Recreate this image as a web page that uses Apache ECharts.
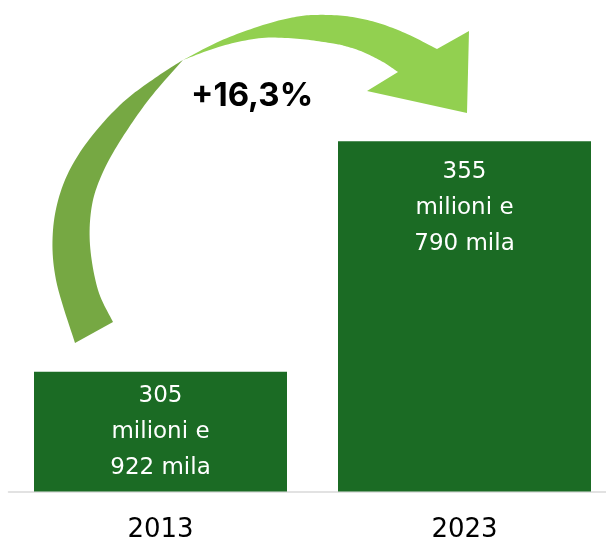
<!DOCTYPE html>
<html>
<head>
<meta charset="utf-8">
<script src="https://cdn.jsdelivr.net/npm/echarts@6/dist/echarts.min.js"></script>
<style>
html,body{margin:0;padding:0;background:#fff;}
#chart{width:606px;height:545px;}
</style>
</head>
<body>
<div id="chart"></div>
<script>
// ---- data ----
const years = ['2013', '2023'];
const valuesMillions = [305.922, 355.790];

// ---- helpers ----
function labelText(v) {
  const m = Math.floor(v + 1e-9);
  const k = Math.round((v - m) * 1000);
  return m + '\nmilioni e\n' + k + ' mila';
}
const pct = (valuesMillions[1] / valuesMillions[0] - 1) * 100;
const pctText = '+' + pct.toFixed(1).replace('.', ',') + '%';

// sample a smooth (Catmull-Rom) curve through the given outline points
function smoothPts(pts) {
  const out = [];
  const N = 12;
  for (let i = 0; i < pts.length - 1; i++) {
    const p0 = pts[Math.max(i - 1, 0)], p1 = pts[i], p2 = pts[i + 1], p3 = pts[Math.min(i + 2, pts.length - 1)];
    const c1 = [p1[0] + (p2[0] - p0[0]) / 6, p1[1] + (p2[1] - p0[1]) / 6];
    const c2 = [p2[0] - (p3[0] - p1[0]) / 6, p2[1] - (p3[1] - p1[1]) / 6];
    for (let j = (i === 0 ? 0 : 1); j <= N; j++) {
      const t = j / N, u = 1 - t;
      out.push([
        u*u*u*p1[0] + 3*u*u*t*c1[0] + 3*u*t*t*c2[0] + t*t*t*p2[0],
        u*u*u*p1[1] + 3*u*u*t*c1[1] + 3*u*t*t*c2[1] + t*t*t*p2[1]
      ]);
    }
  }
  return out;
}

// decorative arrow outline (pixels)
const darkOuter = [[75,343],[56,280],[53,230],[63,185],[85,145],[120,105],[155,78],[183,60]];
const darkInner = [[183,60],[150,98],[122,138],[103,172],[92,205],[90,245],[98,290],[113,322]];
const lightTop = [[183,60],[220,41],[260,26],[290,18],[313,15],[345,16],[375,22],[405,33],[437,49]];
const lightLow = [[398,72],[383,62],[363,52],[345,46],[330,43],[300,39],[262,38],[222,46],[183,60]];
const headPts = [[469,31],[467,113],[367,91]];

const darkPoly = smoothPts(darkOuter).concat(smoothPts(darkInner).slice(1));
const lightPoly = smoothPts(lightTop).concat(headPts, smoothPts(lightLow));

const FONT = '"DejaVu Sans", sans-serif';

const chart = echarts.init(document.getElementById('chart'), null, {renderer: 'canvas'});
chart.setOption({
  animation: false,
  backgroundColor: '#ffffff',
  grid: {left: 8.5, right: -10.5, top: 29.5, bottom: 53.5, containLabel: false, outerBoundsMode: 'none'},
  xAxis: {
    type: 'category',
    data: years,
    axisLine: {show: true, lineStyle: {color: '#D9D9D9', width: 1.5}},
    axisTick: {show: false},
    axisLabel: {color: '#000000', fontSize: 26, fontFamily: FONT, margin: 26}
  },
  yAxis: {
    type: 'value', min: 280, max: 380, show: false,
    splitLine: {show: false}
  },
  series: [{
    type: 'bar',
    barWidth: 253,
    itemStyle: {color: '#1B6B24'},
    data: valuesMillions.map((v, i) => ({
      value: v,
      label: {distance: i === 0 ? 6 : 13}
    })),
    label: {
      show: true,
      position: 'insideTop',
      color: '#ffffff',
      fontSize: 23,
      lineHeight: 36,
      fontFamily: FONT,
      align: 'center',
      formatter: p => labelText(p.value)
    }
  }],
  graphic: [
    {type: 'polygon', shape: {points: darkPoly}, style: {fill: '#76A843'}, z: 10},
    {type: 'polygon', shape: {points: lightPoly}, style: {fill: '#92D050'}, z: 10},
    {type: 'text', left: 191, top: 80, z: 11,
      style: {text: pctText, fill: '#000000', font: 'bold 33px Inter, Roboto, sans-serif'}}
  ]
});
</script>
</body>
</html>
